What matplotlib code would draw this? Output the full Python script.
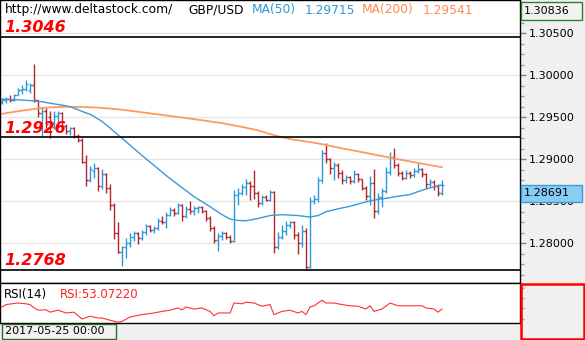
import numpy as np
import matplotlib.pyplot as plt
from matplotlib.patches import Rectangle
from matplotlib.ticker import MultipleLocator, FormatStrFormatter
from matplotlib.transforms import blended_transform_factory

# GBP/USD bars, oldest first
opens = [1.2968, 1.2971, 1.2972, 1.2970, 1.2977, 1.2983, 1.2984, 1.2983, 1.2988, 1.2970,
         1.2955, 1.2958, 1.2950, 1.2938, 1.2952, 1.2955, 1.2940, 1.2934, 1.2937, 1.2928,
         1.2923, 1.2897, 1.2875, 1.2886, 1.2890, 1.2868, 1.2882, 1.2866, 1.2845, 1.2812,
         1.2790, 1.2795, 1.2800, 1.2808, 1.2812, 1.2806, 1.2813, 1.2820, 1.2816, 1.2818,
         1.2827, 1.2825, 1.2834, 1.2840, 1.2836, 1.2845, 1.2832, 1.2841, 1.2838, 1.2842,
         1.2843, 1.2838, 1.2830, 1.2818, 1.2804, 1.2809, 1.2812, 1.2808, 1.2803, 1.2858,
         1.2860, 1.2867, 1.2872, 1.2868, 1.2860, 1.2848, 1.2855, 1.2852, 1.2861, 1.2795,
         1.2807, 1.2815, 1.2822, 1.2825, 1.2810, 1.2800, 1.2815, 1.2772, 1.2850, 1.2853,
         1.2875, 1.2907, 1.2900, 1.2890, 1.2893, 1.2884, 1.2875, 1.2879, 1.2874, 1.2882,
         1.2876, 1.2866, 1.2856, 1.2872, 1.2838, 1.2855, 1.2862, 1.2885, 1.2903, 1.2893,
         1.2884, 1.2878, 1.2884, 1.2881, 1.2886, 1.2889, 1.2882, 1.2870, 1.2873, 1.2868,
         1.2860]
highs = [1.2973, 1.2974, 1.2976, 1.2978, 1.2985, 1.2988, 1.2994, 1.2991, 1.3014, 1.2971,
         1.2962, 1.2961, 1.2957, 1.2957, 1.2957, 1.2956, 1.2942, 1.2939, 1.2938, 1.2930,
         1.2925, 1.2905, 1.2892, 1.2895, 1.2891, 1.2888, 1.2884, 1.2870, 1.2848, 1.2825,
         1.2797, 1.2806, 1.2812, 1.2815, 1.2813, 1.2816, 1.2823, 1.2822, 1.2820, 1.2830,
         1.2833, 1.2837, 1.2843, 1.2842, 1.2848, 1.2847, 1.2844, 1.2850, 1.2844, 1.2844,
         1.2844, 1.2840, 1.2833, 1.2820, 1.2812, 1.2815, 1.2813, 1.2810, 1.2863, 1.2866,
         1.2870, 1.2877, 1.2874, 1.2887, 1.2862, 1.2857, 1.2858, 1.2863, 1.2862, 1.2813,
         1.2822, 1.2826, 1.2827, 1.2826, 1.2813, 1.2822, 1.2818, 1.2855, 1.2857, 1.2879,
         1.2911, 1.2919, 1.2902, 1.2897, 1.2896, 1.2887, 1.2881, 1.2880, 1.2887, 1.2884,
         1.2877, 1.2868, 1.2880, 1.2889, 1.2860, 1.2866, 1.2891, 1.2909, 1.2913, 1.2895,
         1.2886, 1.2887, 1.2886, 1.2890, 1.2895, 1.2890, 1.2884, 1.2876, 1.2875, 1.2871,
         1.2875]
lows = [1.2966, 1.2967, 1.2968, 1.2969, 1.2976, 1.2978, 1.2981, 1.2979, 1.2968, 1.2950,
        1.2928, 1.2937, 1.2925, 1.2936, 1.2938, 1.2936, 1.2930, 1.2929, 1.2925, 1.2921,
        1.2895, 1.2868, 1.2873, 1.2878, 1.2862, 1.2865, 1.2860, 1.2840, 1.2805, 1.2788,
        1.2773, 1.2782, 1.2795, 1.2803, 1.2799, 1.2804, 1.2810, 1.2814, 1.2812, 1.2816,
        1.2823, 1.2818, 1.2832, 1.2833, 1.2835, 1.2827, 1.2830, 1.2835, 1.2834, 1.2836,
        1.2836, 1.2826, 1.2815, 1.2800, 1.2791, 1.2804, 1.2805, 1.2800, 1.2801, 1.2845,
        1.2857, 1.2857, 1.2852, 1.2853, 1.2843, 1.2846, 1.2850, 1.2850, 1.2789, 1.2793,
        1.2805, 1.2810, 1.2818, 1.2805, 1.2787, 1.2795, 1.2768, 1.2770, 1.2847, 1.2849,
        1.2872, 1.2896, 1.2883, 1.2875, 1.2878, 1.2871, 1.2872, 1.2870, 1.2872, 1.2873,
        1.2863, 1.2852, 1.2845, 1.2830, 1.2835, 1.2843, 1.2860, 1.2881, 1.2890, 1.2880,
        1.2875, 1.2876, 1.2878, 1.2879, 1.2884, 1.2879, 1.2866, 1.2867, 1.2864, 1.2856,
        1.2858]
closes = [1.2971, 1.2972, 1.2970, 1.2977, 1.2983, 1.2984, 1.2990, 1.2988, 1.2970, 1.2955,
          1.2958, 1.2942, 1.2938, 1.2952, 1.2955, 1.2940, 1.2934, 1.2937, 1.2928, 1.2923,
          1.2897, 1.2875, 1.2888, 1.2890, 1.2868, 1.2882, 1.2866, 1.2845, 1.2812, 1.2790,
          1.2795, 1.2800, 1.2808, 1.2812, 1.2806, 1.2813, 1.2820, 1.2816, 1.2818, 1.2827,
          1.2825, 1.2834, 1.2840, 1.2836, 1.2845, 1.2832, 1.2841, 1.2838, 1.2842, 1.2843,
          1.2838, 1.2830, 1.2818, 1.2804, 1.2809, 1.2812, 1.2808, 1.2803, 1.2858, 1.2860,
          1.2867, 1.2872, 1.2868, 1.2860, 1.2848, 1.2855, 1.2852, 1.2861, 1.2795, 1.2807,
          1.2815, 1.2822, 1.2825, 1.2810, 1.2800, 1.2815, 1.2772, 1.2850, 1.2853, 1.2875,
          1.2907, 1.2900, 1.2890, 1.2893, 1.2884, 1.2875, 1.2879, 1.2874, 1.2882, 1.2876,
          1.2866, 1.2856, 1.2872, 1.2838, 1.2855, 1.2862, 1.2885, 1.2903, 1.2893, 1.2884,
          1.2878, 1.2884, 1.2881, 1.2886, 1.2889, 1.2882, 1.2870, 1.2873, 1.2868, 1.2860,
          1.28691]

# moving averages (bar index, value)
ma50_bar = [0, 4, 7, 10, 12, 15, 17, 19, 20, 22, 23, 24, 25, 26, 27, 28, 30, 36, 42, 48,
            52, 55, 57, 59, 61, 64, 67, 70, 74, 77, 79, 81, 84, 87, 90, 93, 96, 99, 102,
            104, 107, 110]
ma50 = [1.29715, 1.29708, 1.29698, 1.29685, 1.29667, 1.29645, 1.29626, 1.29590, 1.29570,
        1.29535, 1.29510, 1.29480, 1.29450, 1.29412, 1.29372, 1.29330, 1.29250, 1.29005,
        1.28770, 1.28555, 1.28436, 1.28340, 1.28289, 1.28272, 1.28268, 1.28295, 1.28330,
        1.28340, 1.28330, 1.28312, 1.28330, 1.28375, 1.28410, 1.28440, 1.28480, 1.28515,
        1.28535, 1.28560, 1.28580, 1.28615, 1.28660, 1.28694]
ma200_bar = [0, 3, 6, 9, 12, 16, 20, 24, 28, 32, 36, 42, 48, 55, 60, 64, 67, 70, 73, 76,
             80, 85, 90, 97, 103, 110]
ma200 = [1.29541, 1.29565, 1.29585, 1.29605, 1.29618, 1.29624, 1.29622, 1.29615, 1.29600,
         1.29578, 1.29553, 1.29515, 1.29478, 1.29430, 1.29385, 1.29345, 1.29300, 1.29262,
         1.29232, 1.29212, 1.29180, 1.29130, 1.29085, 1.29019, 1.28965, 1.28905]

# RSI(14)
rsi_bar = [0, 1, 4, 6, 7, 8, 9, 11, 12, 14, 16, 18, 20, 22, 24, 25, 27, 29, 30, 32, 35, 38,
           40, 42, 44, 45, 46, 48, 50, 52, 53, 54, 57, 58, 60, 61, 63, 65, 67, 68, 70, 72,
           74, 75, 76, 77, 78, 80, 81, 83, 85, 87, 89, 91, 92, 93, 95, 97, 99, 102, 105,
           106, 108, 109, 110]
rsi_val = [53.0722, 57.0, 59.6, 58.3, 57.0, 51.7, 47.8, 48.4, 44.5, 47.8, 43.2, 44.5, 33.3,
           37.9, 34.9, 34.9, 31.3, 28.0, 29.3, 36.6, 40.5, 43.2, 45.8, 47.8, 51.4, 48.4,
           53.0, 49.7, 51.4, 45.8, 38.6, 43.2, 43.2, 59.6, 58.3, 60.9, 59.6, 54.3, 57.0,
           40.5, 45.8, 47.8, 43.2, 45.8, 40.5, 53.0, 55.0, 64.2, 59.6, 59.6, 57.0, 55.0,
           54.3, 49.7, 55.0, 45.8, 49.7, 59.6, 55.0, 55.0, 55.0, 51.4, 49.7, 44.5, 49.7]

levels = [1.3046, 1.2926, 1.2768]
scale_top = 1.30836
first_date = '2017-05-25 00:00'

W, H = 585, 340
up_col = '#2f97d8'
down_col = '#b0282e'


def fig_xy(x, y):
    return x / W, 1 - y / H


fig = plt.figure(figsize=(W / 100, H / 100), dpi=100, facecolor='#f0f0f0')
ax = fig.add_axes([0, 57 / H, 520 / W, 283 / H])
rx = fig.add_axes([0, 17 / H, 520 / W, 40 / H])

idx = np.arange(len(closes))
o = np.array(opens)
c = np.array(closes)
cols = [up_col if cc >= oo else down_col for oo, cc in zip(o, c)]

# price panel
ax.set_xlim(-0.5, 129.5)
ax.set_ylim(1.27527, 1.30896)
ax.grid(axis='y', color='#e6e6e6', lw=1)
ax.set_axisbelow(True)
ax.vlines(idx, lows, highs, colors=cols, lw=1.0)
ax.hlines(o, idx - 0.45, idx, colors=cols, lw=1.0)
ax.hlines(c, idx, idx + 0.45, colors=cols, lw=1.0)

ax.plot(ma200_bar, ma200, color='#ff9a5e', lw=1.3)
ax.plot(ma50_bar, ma50, color='#3a9ad8', lw=1.0)

for lvl in levels:
    ax.axhline(lvl, color='black', lw=1.2)
    ax.annotate(f'{lvl:.4f}', xy=(0, lvl), xycoords=('axes fraction', 'data'),
                xytext=(3, 3.5), textcoords='offset points', va='baseline',
                color='red', fontsize=11.5, fontweight='bold', fontstyle='italic')

ax.set_xticks([])
ax.yaxis.tick_right()
ax.yaxis.set_major_locator(MultipleLocator(0.005))
ax.yaxis.set_minor_locator(MultipleLocator(0.00125))
ax.yaxis.set_major_formatter(FormatStrFormatter('%.5f'))
ax.tick_params(axis='y', which='major', length=4, width=1, color='#808080',
               labelsize=8, pad=2)
ax.tick_params(axis='y', which='minor', length=3, width=1, color='#a0a0a0')
for s in ax.spines.values():
    s.set_color('black')
    s.set_linewidth(1)

# price tags on the right scale
bt = blended_transform_factory(ax.transAxes, ax.transData)
ax.add_patch(Rectangle((1.002, 1.30658), 0.118, 0.00214, transform=bt, clip_on=False,
                       fc='#f2f2f2', ec='#2e7d32', lw=1, zorder=5))
ax.text(1.008, 1.30765, f'{scale_top:.5f}', transform=bt, va='center', ha='left',
        fontsize=8, clip_on=False, zorder=6)
last = closes[-1]
ax.add_patch(Rectangle((1.002, last - 0.00196), 0.118, 0.00196, transform=bt,
                       clip_on=False, fc='#88cdf6', ec='#3c9bd6', lw=1, zorder=5))
ax.text(1.008, last - 0.00098, f'{last:.5f}', transform=bt, va='center', ha='left',
        fontsize=8, clip_on=False, zorder=6)

# header line
header = [(5, 'http://www.deltastock.com/', 'black'),
          (188, 'GBP/USD', 'black'),
          (252, 'MA(50)', '#2f97d8'),
          (305, f'{ma50[0]:.5f}', '#2f97d8'),
          (362, 'MA(200)', '#ff8a4c'),
          (423, f'{ma200[0]:.5f}', '#ff8a4c')]
for x, txt, col in header:
    fig.text(*fig_xy(x, 10), txt, color=col, fontsize=8.8, va='center', ha='left')

# RSI panel
rx.set_xlim(-0.5, 129.5)
rx.set_ylim(26.7, 92.5)
rx.plot(rsi_bar, rsi_val, color='#ff3030', lw=0.8)
rx.set_xticks([])
rx.yaxis.tick_right()
rx.set_yticks([33.3, 51.4, 67.8, 84.3])
rx.set_yticklabels([])
rx.tick_params(axis='y', length=3, width=1, color='#a0a0a0')
for s in rx.spines.values():
    s.set_color('black')
    s.set_linewidth(1)
rx.text(0.008, 0.72, 'RSI(14)', transform=rx.transAxes, fontsize=8.5, va='center')
rx.text(0.115, 0.72, f'RSI:{rsi_val[0]:.5f}', transform=rx.transAxes, fontsize=8.5,
        va='center', color='#ff2020')

fig.patches.append(Rectangle(fig_xy(521, 339), 63 / W, 55 / H, transform=fig.transFigure,
                             fill=False, ec='red', lw=1.8, zorder=10))

# date box under the panels
fig.patches.append(Rectangle(fig_xy(2, 339), 114 / W, 15 / H, transform=fig.transFigure,
                             fc='#f2f2f2', ec='#2e6b2e', lw=1, zorder=10))
fig.text(*fig_xy(5, 331.5), first_date, fontsize=8, va='center', ha='left', zorder=11)

fig.savefig('out.png', dpi=100, facecolor=fig.get_facecolor())
plt.close(fig)
